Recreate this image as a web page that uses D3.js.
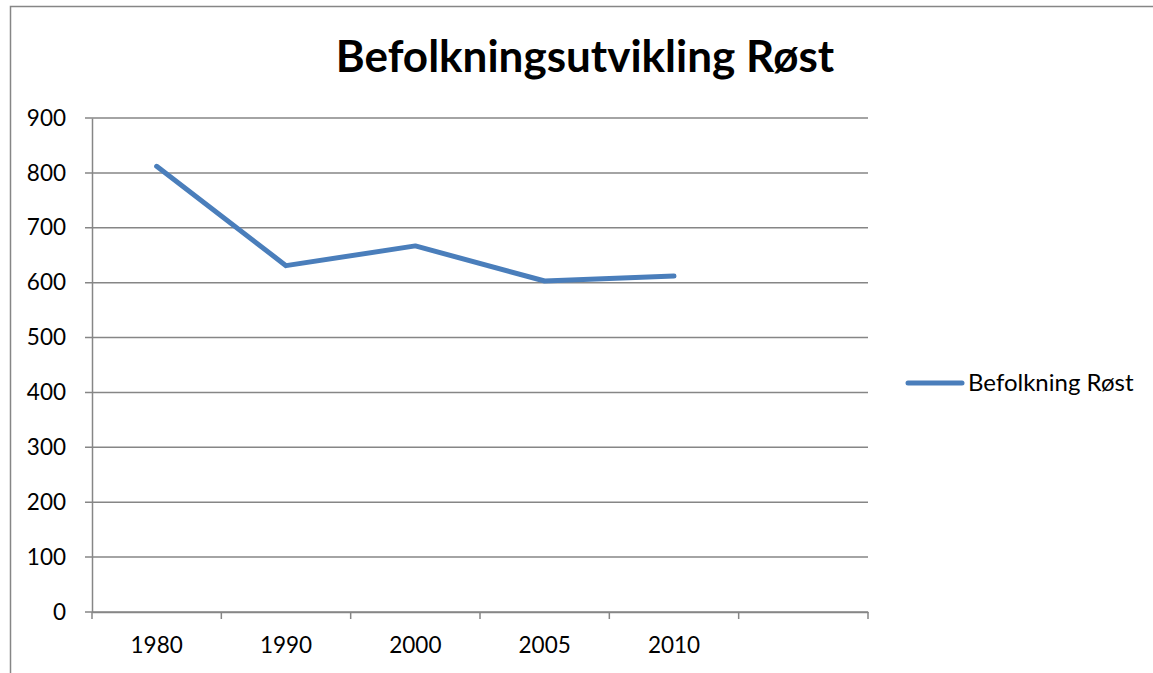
<!DOCTYPE html>
<html>
<head>
<meta charset="utf-8">
<script src="https://cdn.jsdelivr.net/npm/d3@7"></script>
<style>
  body { margin: 0; background: #fff; }
  .chart text { font-family: Lato, "Open Sans", sans-serif; fill: #000; }
</style>
</head>
<body>
<div class="chart"></div>
<script>
// chart data
var years = ["1980", "1990", "2000", "2005", "2010", ""];
var population = [812, 631, 667, 603, 612];
var yTicks = [0, 100, 200, 300, 400, 500, 600, 700, 800, 900];
var seriesName = "Befolkning Røst";
var chartTitle = "Befolkningsutvikling Røst";

var svgWidth = 1153;
var svgHeight = 673;
var margin = {top: 118, right: 285, bottom: 61, left: 92};
var chartWidth = svgWidth - margin.left - margin.right;
var chartHeight = svgHeight - margin.top - margin.bottom;

var svg = d3.select(".chart")
  .append("svg")
  .attr("width", svgWidth)
  .attr("height", svgHeight);

// outer frame
svg.append("rect")
  .attr("x", 10.5).attr("y", 6.5)
  .attr("width", 1200).attr("height", 700)
  .attr("fill", "none")
  .attr("stroke", "#868686")
  .attr("stroke-width", 1.5);

// title
svg.append("text")
  .attr("x", 585)
  .attr("y", 72)
  .attr("text-anchor", "middle")
  .style("font-size", "44px")
  .style("font-weight", "bold")
  .text(chartTitle);

var chart = svg.append("g")
  .attr("transform", "translate(" + margin.left + "," + margin.top + ")");

var x = d3.scaleBand().domain(years).range([0, chartWidth]);
var y = d3.scaleLinear().domain([0, 900]).range([chartHeight, 0]);

// gridlines
chart.append("g")
  .selectAll("line")
  .data(yTicks)
  .enter().append("line")
  .attr("x1", -7)
  .attr("x2", chartWidth)
  .attr("y1", function(d) { return y(d); })
  .attr("y2", function(d) { return y(d); })
  .attr("stroke", "#868686")
  .attr("stroke-width", 1.5);

// y axis
var leftAxis = d3.axisLeft(y).tickValues(yTicks).tickSize(0).tickPadding(26);
var gy = chart.append("g").call(leftAxis);
gy.select(".domain").attr("stroke", "#868686").attr("stroke-width", 1.5);
gy.selectAll("text").style("font-size", "22.5px");

// x axis
var bottomAxis = d3.axisBottom(x).tickSize(0).tickPadding(25);
var gx = chart.append("g")
  .attr("transform", "translate(0," + chartHeight + ")")
  .call(bottomAxis);
gx.select(".domain").attr("stroke", "#868686").attr("stroke-width", 1.5);
gx.selectAll("text").style("font-size", "22.5px");

// x tick marks at band edges
var edges = years.map(function(d) { return x(d); }).concat([chartWidth]);
chart.append("g")
  .selectAll("line")
  .data(edges)
  .enter().append("line")
  .attr("x1", function(d) { return d; })
  .attr("x2", function(d) { return d; })
  .attr("y1", chartHeight)
  .attr("y2", chartHeight + 7)
  .attr("stroke", "#868686")
  .attr("stroke-width", 1.5);

// line
var line = d3.line()
  .x(function(d, i) { return x(years[i]) + x.bandwidth() / 2; })
  .y(function(d) { return y(d); });

chart.append("path")
  .datum(population)
  .attr("d", line)
  .attr("fill", "none")
  .attr("stroke", "#4a7ebb")
  .attr("stroke-width", 5)
  .attr("stroke-linecap", "round")
  .attr("stroke-linejoin", "round");

// legend
var legend = svg.append("g").attr("transform", "translate(908,383)");
legend.append("line")
  .attr("x1", 0).attr("x2", 54)
  .attr("stroke", "#4a7ebb")
  .attr("stroke-width", 5)
  .attr("stroke-linecap", "round");
legend.append("text")
  .attr("x", 60)
  .attr("dy", "0.35em")
  .style("font-size", "24px")
  .text(seriesName);
</script>
</body>
</html>
